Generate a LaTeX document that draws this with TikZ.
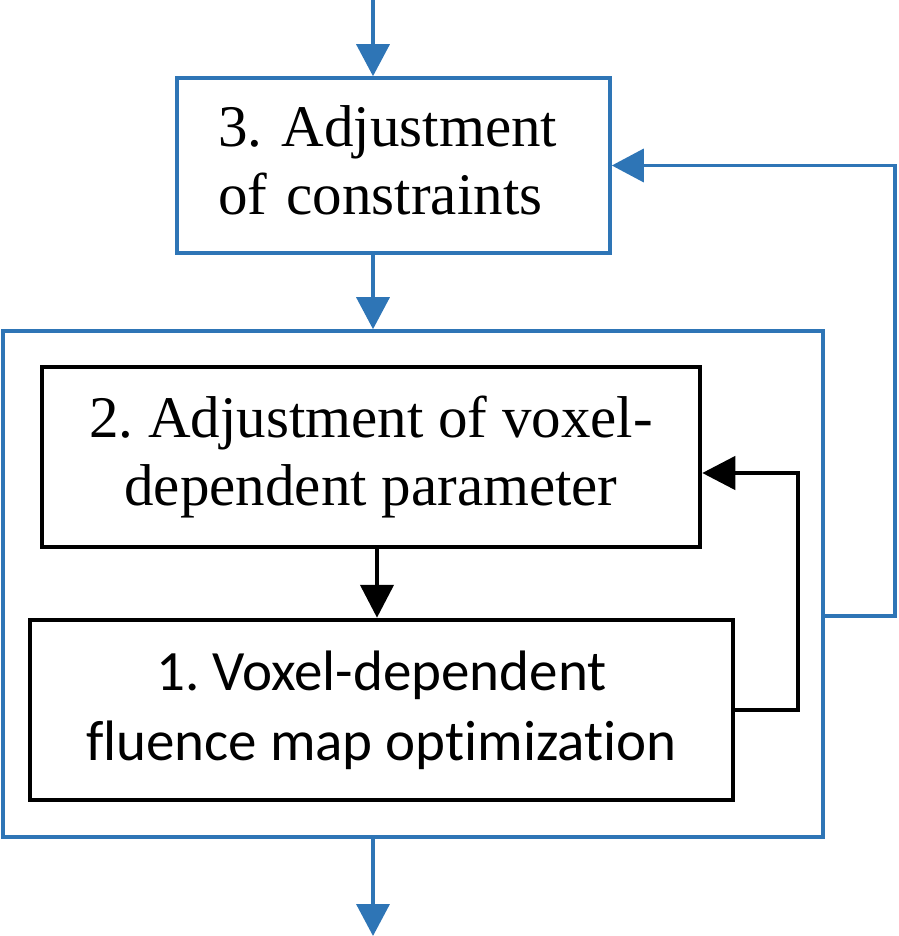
\documentclass[tikz,border=0pt]{standalone}
\usepackage{fontspec}
\setmainfont{Liberation Serif}
\newfontfamily\carlito[Ligatures={NoCommon}]{Carlito}
\usetikzlibrary{arrows.meta,calc}
\definecolor{ublue}{RGB}{46,117,182}
\frenchspacing
\begin{document}
\begin{tikzpicture}[x=1pt,y=-1pt,
  bluebox/.style={draw=ublue,line width=3.6pt,rectangle,inner sep=0pt},
  blackbox/.style={draw=black,line width=4.5pt,rectangle,inner sep=0pt},
  barrow/.style={draw=ublue,line width=3.6pt,-{Triangle[length=32pt,width=33pt]}},
  karrow/.style={draw=black,line width=4.5pt,-{Triangle[length=33pt,width=33pt]}},
  serifbig/.style={font=\fontsize{59}{68}\selectfont},
  sansbig/.style={font=\carlito\fontsize{57}{70}\selectfont}]
\useasboundingbox (0,0) rectangle (898,936);
\node[bluebox, minimum height=175pt, text width=351pt, inner xsep=41pt, align=left, serifbig] (b3) at (393.5,165.5) {3. Adjustment\\of constraints\rule[-11pt]{0pt}{11pt}};
\node[bluebox, minimum width=820pt, minimum height=506pt] (outer) at (413,584) {};
\node[blackbox, minimum width=658pt, minimum height=180pt, align=center, serifbig] (b2) at (371,457) {2. Adjustment of voxel-\\dependent parameter};
\node[blackbox, minimum width=703pt, minimum height=180pt, align=center, sansbig] (b1) at (381.5,710) {1. Voxel-dependent\\fluence map optimization};
\coordinate (top) at (373,0);
\coordinate (bot) at (373,936);
\coordinate (kx) at (377,0);
\coordinate (kloop) at (798,0);
\coordinate (bloop) at (895,0);
\draw[barrow] (top) -- (top |- b3.north);
\draw[barrow] (top |- b3.south) -- (top |- outer.north);
\draw[barrow] (top |- outer.south) -- (bot);
\draw[karrow] (kx |- b2.south) -- (kx |- b1.north);
\draw[karrow] (b1.east) -| ($(kloop |- b2.east)+(0,16)$) -- ($(b2.east)+(0,16)$);
\draw[barrow] ($(outer.east)+(0,32)$) -| (bloop |- b3.east) -- (b3.east);
\end{tikzpicture}
\end{document}
